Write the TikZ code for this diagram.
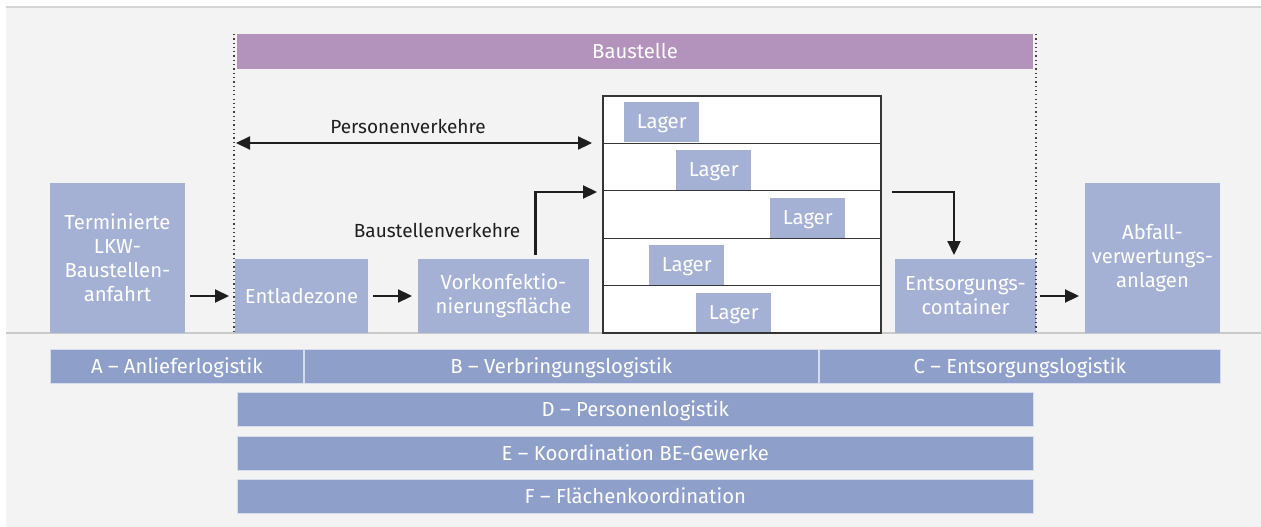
\documentclass[tikz,border=0pt]{standalone}
\usepackage{fontspec}
\setmainfont{Fira Sans}
\usetikzlibrary{arrows.meta,positioning}
\definecolor{bg-grey}{HTML}{F3F3F3}
\definecolor{rule-grey}{HTML}{CACACA}
\definecolor{box-blue}{HTML}{A5B1D4}
\definecolor{bar-blue}{HTML}{8E9FC9}
\definecolor{site-violet}{HTML}{B393BC}
\definecolor{ink}{HTML}{1E1E1E}
\newcommand\diafont{\fontsize{19}{24}\selectfont}
\newcommand\boxfont{\fontsize{20.3}{24}\selectfont}
\tikzset{
    flow-box/.style = {fill=box-blue, text=white, anchor=north west, inner sep=0pt, outer sep=0pt, align=center, font=\boxfont},
    lager-box/.style = {fill=box-blue, text=white, anchor=north west, minimum width=75pt, minimum height=40pt, inner sep=0pt, text height=13.5pt, text depth=0pt, font=\boxfont},
    bar-box/.style = {fill=bar-blue, draw=white!65!bar-blue, line width=0.7pt, text=white, anchor=north west, minimum height=34pt, inner sep=0pt, text height=13.5pt, text depth=0pt, font=\boxfont},
    label-text/.style = {text=ink, inner sep=0pt, font=\diafont},
    flow-arrow/.style = {draw=ink, line width=2.2pt, -{Triangle[length=14pt,width=13pt]}},
    site-line/.style = {draw=ink!85, line width=1.3pt, dash pattern=on 1.3pt off 3pt},
    stack-line/.style = {draw=ink!90, line width=1.3pt},
}

\begin{document}
\begin{tikzpicture}[x=1pt, y=-1pt]
\useasboundingbox (0,0) rectangle (1261,527);
\fill[bg-grey] (6,7) rectangle (1261,527);
\draw[rule-grey!80, line width=2pt] (6,7) -- (1261,7);
\draw[rule-grey, line width=2pt] (6,333) -- (1261,333);

% Baustelle
\node[flow-box, fill=site-violet, minimum width=796pt, minimum height=35pt] (baustelle) at (237,34) {Baustelle};

% Ablauf
\node[flow-box, minimum width=135pt, minimum height=150pt] (terminierte) at (50,183) {Terminierte\\LKW-\\Baustellen-\\anfahrt};
\node[flow-box, minimum width=133pt, minimum height=74pt] (entladezone) at (235,259) {Entladezone};
\node[flow-box, minimum width=171pt, minimum height=74pt] (vorkonf) at (418,259) {Vorkonfektio-\\nierungsfläche};
\node[flow-box, minimum width=141pt, minimum height=74pt] (entsorgung) at (895,259) {Entsorgungs-\\container};
\node[flow-box, minimum width=135pt, minimum height=150pt] (abfall) at (1085,183) {Abfall-\\verwertungs-\\anlagen};

% Lager
\node[fill=white, anchor=north west, minimum width=278pt, minimum height=237pt, inner sep=0pt, outer sep=0pt] (lager-stack) at (603,96) {};
\foreach \x/\y [count=\n] in {624/102, 676/150, 770/198, 649/245, 696/293}
    \node[lager-box] (lager-\n) at (\x,\y) {Lager};
\foreach \i in {1,...,4}
    \draw[stack-line] (603,{96+47.4*\i}) -- (881,{96+47.4*\i});
\draw[stack-line] (lager-stack.north west) rectangle (lager-stack.south east);

% Grenzen der Baustelle
\draw[site-line] (234,34) -- (234,333);
\draw[site-line] (1036,34) -- (1036,333);

% Verkehre
\coordinate (site-west) at (236,143);
\draw[flow-arrow, {Triangle[length=14pt,width=13pt]}-{Triangle[length=14pt,width=13pt]}, shorten >=11pt] (site-west) -- (lager-stack.west |- site-west);
\node[label-text, anchor=base] (personen-label) at (408,133) {Personenverkehre};
\node[label-text, anchor=base] (baustellen-label) at (437,237) {Baustellenverkehre};

\draw[flow-arrow, shorten <=5pt, shorten >=6pt] (terminierte.east |- entladezone.west) -- (entladezone.west);
\draw[flow-arrow, shorten <=5pt, shorten >=6pt] (entladezone) -- (vorkonf);
\draw[flow-arrow] ([xshift=32pt,yshift=4pt]vorkonf.north) |- ([xshift=-6pt,yshift=22.5pt]lager-stack.west);
\draw[flow-arrow] ([xshift=11pt,yshift=22.5pt]lager-stack.east) -| ([xshift=-11.5pt,yshift=4pt]entsorgung.north);
\draw[flow-arrow, shorten <=4pt, shorten >=6pt] (entsorgung.east) -- (abfall.west |- entsorgung.east);

% Logistikbereiche
\node[bar-box, minimum width=253pt] (bar-a) at (50,349) {A – Anlieferlogistik};
\node[bar-box, minimum width=514pt] (bar-b) at (304,349) {B – Verbringungslogistik};
\node[bar-box, minimum width=401pt] (bar-c) at (819,349) {C – Entsorgungslogistik};
\node[bar-box, minimum width=796pt] (bar-d) at (237,392) {D – Personenlogistik};
\node[bar-box, minimum width=796pt] (bar-e) at (237,436) {E – Koordination BE-Gewerke};
\node[bar-box, minimum width=796pt] (bar-f) at (237,479) {F – Flächenkoordination};
\end{tikzpicture}
\end{document}
